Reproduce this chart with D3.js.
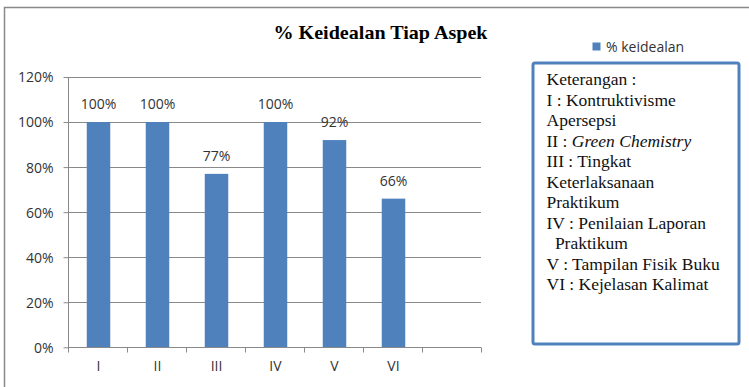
<!DOCTYPE html>
<html>
<head>
<meta charset="utf-8">
<script src="https://cdn.jsdelivr.net/npm/d3@7/dist/d3.min.js"></script>
<style>
  html, body { margin: 0; padding: 0; background: #fff; }
  svg { display: block; }
</style>
</head>
<body>
<svg id="chart" width="749" height="387"></svg>
<script>
// Aspect codes, one empty slot at the end keeps the category axis spacing
const categories = ["I", "II", "III", "IV", "V", "VI", ""];
const idealPercent = [100, 100, 77, 100, 92, 66];
const yTicks = [0, 20, 40, 60, 80, 100, 120];
const seriesName = "% keidealan";
const chartTitle = "% Keidealan Tiap Aspek";
const noteLines = [
  { parts: [{ t: "Keterangan :" }] },
  { parts: [{ t: "I : Kontruktivisme" }] },
  { parts: [{ t: "Apersepsi" }] },
  { parts: [{ t: "II : " }, { t: "Green Chemistry", italic: true }] },
  { parts: [{ t: "III : Tingkat" }] },
  { parts: [{ t: "Keterlaksanaan" }] },
  { parts: [{ t: "Praktikum" }] },
  { parts: [{ t: "IV : Penilaian Laporan" }] },
  { parts: [{ t: " Praktikum" }], indent: 4 },
  { parts: [{ t: "V : Tampilan Fisik Buku" }] },
  { parts: [{ t: "VI : Kejelasan Kalimat" }] }
];

const svg = d3.select("#chart");
const barColor = "#4F81BD";
const gridColor = "#898989";
const sansFont = "'Open Sans', 'Noto Sans', sans-serif";
const serifFont = "'Liberation Serif', 'DejaVu Serif', serif";

// Outer chart frame (only top and left edges fall inside the view)
svg.append("rect")
  .attr("x", 4.5).attr("y", 7.5)
  .attr("width", 800).attr("height", 400)
  .attr("fill", "none").attr("stroke", gridColor).attr("stroke-width", 1.5);

const plot = { left: 68, right: 481, top: 77, bottom: 347.3 };

const x = d3.scaleBand()
  .domain(categories)
  .range([plot.left, plot.right])
  .paddingInner(0).paddingOuter(0);

const y = d3.scaleLinear()
  .domain([0, 120])
  .range([plot.bottom, plot.top]);

// Horizontal gridlines
svg.append("g")
  .selectAll("line")
  .data(yTicks.filter(d => d > 0))
  .join("line")
  .attr("x1", plot.left).attr("x2", plot.right)
  .attr("y1", d => Math.round(y(d)) + 0.5).attr("y2", d => Math.round(y(d)) + 0.5)
  .attr("stroke", gridColor).attr("stroke-width", 1);

// Y axis
const yAxis = svg.append("g")
  .attr("transform", `translate(${plot.left + 0.5},0)`)
  .call(d3.axisLeft(y).tickValues(yTicks).tickSize(5).tickPadding(10).tickFormat(d => d + "%"));
yAxis.select(".domain").attr("stroke", gridColor).attr("d", `M0,${plot.top}V${plot.bottom}`);
yAxis.selectAll(".tick line").attr("stroke", gridColor);
yAxis.selectAll(".tick text")
  .attr("font-family", sansFont).attr("font-size", 14).attr("fill", "#333")
  .attr("dy", "0.35em");

// Bars
const barW = 23.5;
svg.append("g")
  .selectAll("rect")
  .data(idealPercent)
  .join("rect")
  .attr("x", (d, i) => x(categories[i]) + x.bandwidth() / 2 - barW / 2 + 1)
  .attr("y", d => y(d))
  .attr("width", barW)
  .attr("height", d => y(0) - y(d))
  .attr("fill", barColor);

// Value labels above bars
svg.append("g")
  .selectAll("text")
  .data(idealPercent)
  .join("text")
  .attr("x", (d, i) => x(categories[i]) + x.bandwidth() / 2 + 1)
  .attr("y", d => y(d) - 13)
  .attr("text-anchor", "middle")
  .attr("font-family", sansFont).attr("font-size", 14).attr("fill", "#333")
  .text(d => d + "%");

// X axis with tick marks at category boundaries
const xAxisG = svg.append("g").attr("transform", `translate(0,${Math.round(plot.bottom) + 0.5})`);
xAxisG.append("line")
  .attr("x1", plot.left).attr("x2", plot.right)
  .attr("stroke", gridColor);
const bounds = categories.map(c => x(c)).concat([plot.right]);
xAxisG.selectAll("line.tk")
  .data(bounds)
  .join("line").attr("class", "tk")
  .attr("x1", d => Math.round(d) + 0.5).attr("x2", d => Math.round(d) + 0.5)
  .attr("y1", 0).attr("y2", 5)
  .attr("stroke", gridColor);
xAxisG.selectAll("text.cat")
  .data(categories)
  .join("text").attr("class", "cat")
  .attr("x", d => x(d) + x.bandwidth() / 2 + 1)
  .attr("y", 23)
  .attr("text-anchor", "middle")
  .attr("font-family", sansFont).attr("font-size", 14).attr("fill", "#333")
  .text(d => d);

// Title
svg.append("text")
  .attr("x", 380.5).attr("y", 39)
  .attr("text-anchor", "middle")
  .attr("font-family", serifFont).attr("font-weight", "bold").attr("font-size", 19.5)
  .attr("textLength", 214).attr("lengthAdjust", "spacingAndGlyphs")
  .attr("fill", "#000")
  .text(chartTitle);

// Series legend
svg.append("rect")
  .attr("x", 592.5).attr("y", 42.5).attr("width", 8).attr("height", 8)
  .attr("fill", barColor);
svg.append("text")
  .attr("x", 606).attr("y", 52)
  .attr("font-family", sansFont).attr("font-size", 14).attr("fill", "#333")
  .text(seriesName);

// Explanatory note box
svg.append("rect")
  .attr("x", 533).attr("y", 63)
  .attr("width", 206).attr("height", 281)
  .attr("rx", 2)
  .attr("fill", "#fff").attr("stroke", barColor).attr("stroke-width", 3);

const note = svg.append("text")
  .attr("font-family", serifFont).attr("font-size", 17.5).attr("fill", "#111");
noteLines.forEach((line, i) => {
  const row = note.append("tspan")
    .attr("x", 546.5 + (line.indent || 0))
    .attr("y", 85 + i * 20.5);
  line.parts.forEach((p, j) => {
    const span = j === 0 ? row : note.append("tspan");
    span.text(p.t);
    if (p.italic) span.attr("font-style", "italic");
  });
});
</script>
</body>
</html>
